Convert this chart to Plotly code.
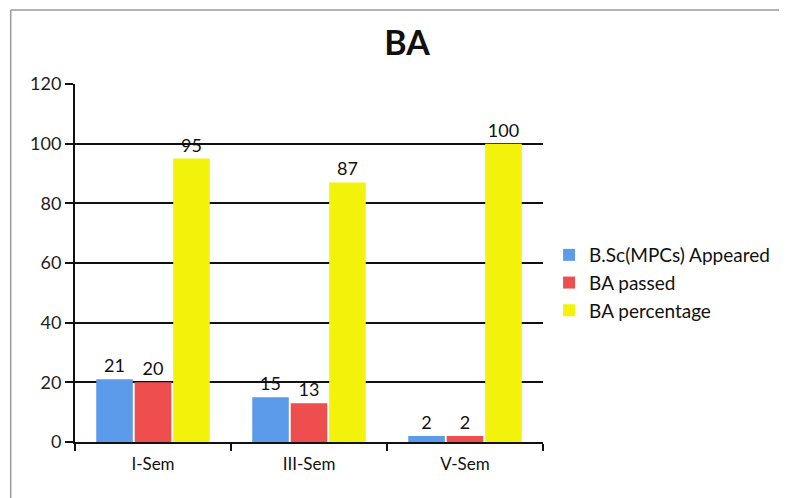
import plotly.graph_objects as go

categories = ["I-Sem", "III-Sem", "V-Sem"]
appeared = [21, 15, 2]
passed = [20, 13, 2]
percentage = [95, 87, 100]
y_ticks = [0, 20, 40, 60, 80, 100, 120]

FONT = "Lato, Carlito, Open Sans, sans-serif"

# page body has an 8px margin, so the figure is sized/positioned accordingly
W, H = 779, 490
L, T, R, B = 67, 76, 239, 56

fig = go.Figure()
series = [
    ("B.Sc(MPCs) Appeared", appeared, "#5B9BEA"),
    ("BA passed", passed, "#EE4E4E"),
    ("BA percentage", percentage, "#F2F20A"),
]
for name, vals, col in series:
    fig.add_trace(go.Bar(
        x=categories, y=vals, name=name,
        marker=dict(color=col, line=dict(width=0)),
        text=[str(v) for v in vals], textposition="outside",
        textfont=dict(color="#111111", size=18, family=FONT),
        cliponaxis=False,
    ))

fig.update_layout(
    width=W, height=H,
    margin=dict(l=L, r=R, t=T, b=B),
    paper_bgcolor="white", plot_bgcolor="white",
    barmode="group", bargap=0.26, bargroupgap=0.05,
    title=dict(text="<b>BA</b>", x=(407 - 8) / W, xanchor="center", y=1 - (43 - 8) / H, yanchor="middle",
               font=dict(size=34, family=FONT, color="#111111")),
    font=dict(family=FONT, color="#111111"),
    legend=dict(x=1.013, y=(434 - 275) / (H - T - B), xanchor="left", yanchor="middle",
                font=dict(size=19, family=FONT, color="#111111"),
                itemwidth=30, tracegroupgap=0, bgcolor="rgba(0,0,0,0)"),
)
fig.update_xaxes(
    showline=True, linecolor="#111111", linewidth=2,
    ticks="outside", tickson="boundaries", ticklen=7, tickcolor="#111111", tickwidth=2,
    tickfont=dict(size=17, family=FONT, color="#111111"),
    ticklabelstandoff=6,
    showgrid=False,
)
fig.update_yaxes(
    range=[0, 120], tickvals=y_ticks,
    showline=True, linecolor="#111111", linewidth=2,
    ticks="outside", ticklen=8, tickcolor="#111111", tickwidth=2,
    tickfont=dict(size=18, family=FONT, color="#222222"),
    showgrid=True, gridcolor="#111111", gridwidth=2,
    zeroline=False,
)
# outer frame lines of the scanned chart
pw = W - L - R
ph = H - T - B
fx = (2 - L) / pw
fy = (H - B - 2) / ph
fig.add_shape(type="line", xref="paper", yref="paper", x0=fx, x1=fx, y0=-0.2, y1=fy,
              line=dict(color="#9a9a9a", width=1.5))
fig.add_shape(type="line", xref="paper", yref="paper", x0=fx, x1=1.6, y0=fy, y1=fy,
              line=dict(color="#9a9a9a", width=1.5))

fig.write_html("out.html")
